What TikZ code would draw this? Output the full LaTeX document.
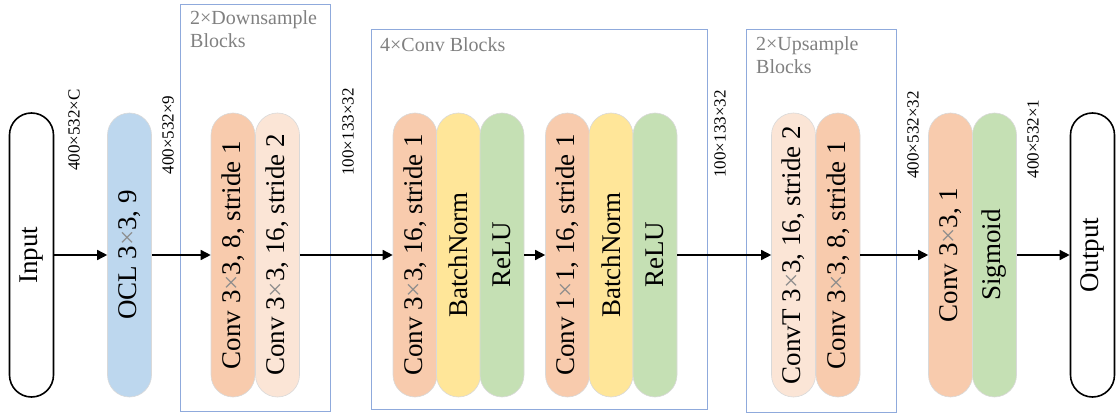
\documentclass[tikz,border=0pt]{standalone}
\usepackage{fontspec}
\setmainfont{Liberation Serif}
\usetikzlibrary{arrows.meta}
\definecolor{cblue}{HTML}{BDD7EE}
\definecolor{csalmon}{HTML}{F8CBAD}
\definecolor{cpeach}{HTML}{FBE5D6}
\definecolor{cyellow}{HTML}{FFE699}
\definecolor{cgreen}{HTML}{C5E0B4}
\definecolor{cframe}{HTML}{8FAADC}
\definecolor{ctitle}{HTML}{808080}
\newcommand{\xx}{\textcolor{black!45}{×}}
\tikzset{
  pill/.style={rectangle, rotate=90, minimum width=284pt, minimum height=44pt,
    rounded corners=22pt, inner sep=0pt, draw=black!15, line width=0.6pt,
    font=\fontsize{27}{30}\selectfont},
  endpill/.style={pill, fill=white, draw=black, line width=1.6pt},
  dimlabel/.style={rotate=90, inner sep=0pt, font=\fontsize{17}{19}\selectfont},
  blockframe/.style={draw=cframe, line width=0.9pt},
  blocktitle/.style={anchor=north west, inner sep=0pt, text=ctitle, align=left,
    font=\fontsize{20}{23}\selectfont},
  flow/.style={draw=black, line width=1.5pt, -{Triangle[length=10pt,width=10pt]}},
  flowplain/.style={draw=black, line width=1.5pt}
}
\begin{document}
\begin{tikzpicture}[x=1pt,y=-1pt]
\useasboundingbox (0,0) rectangle (1117,414);
% block frames
\draw[blockframe] (180,4) rectangle (330,411);
\draw[blockframe] (371,29) rectangle (707,409);
\draw[blockframe] (746,29) rectangle (896,412);
\node[blocktitle] (t1) at (190,10) {2×Downsample\\Blocks};
\node[blocktitle] (t2) at (380,37) {4×Conv Blocks};
\node[blocktitle] (t3) at (756,36) {2×Upsample\\Blocks};
% pills
\node[endpill] (in) at (31.5,255) {Input};
\node[pill, fill=cblue] (ocl) at (129.5,255) {OCL 3\xx3, 9};
\node[pill, fill=csalmon] (d1) at (233,255) {Conv 3\xx3, 8, stride 1};
\node[pill, fill=cpeach] (d2) at (277.5,255) {Conv 3\xx3, 16, stride 2};
\node[pill, fill=csalmon] (c1) at (415,255) {Conv 3\xx3, 16, stride 1};
\node[pill, fill=cyellow] (b1) at (458.5,255) {BatchNorm};
\node[pill, fill=cgreen] (r1) at (502,255) {ReLU};
\node[pill, fill=csalmon] (c2) at (567.5,255) {Conv 1\xx1, 16, stride 1};
\node[pill, fill=cyellow] (b2) at (611,255) {BatchNorm};
\node[pill, fill=cgreen] (r2) at (655,255) {ReLU};
\node[pill, fill=cpeach] (u1) at (793.5,255) {ConvT 3\xx3, 16, stride 2};
\node[pill, fill=csalmon] (u2) at (838,255) {Conv 3\xx3, 8, stride 1};
\node[pill, fill=csalmon] (f1) at (950.5,255) {Conv 3\xx3, 1};
\node[pill, fill=cgreen] (f2) at (994.5,255) {Sigmoid};
\node[endpill] (out) at (1092.5,255) {Output};
% dimension labels
\node[dimlabel] (l1) at (74,130) {400×532×C};
\node[dimlabel] (l2) at (168,135) {400×532×9};
\node[dimlabel] (l3) at (348,132) {100×133×32};
\node[dimlabel] (l4) at (720,134) {100×133×32};
\node[dimlabel] (l5) at (913,135) {400×532×32};
\node[dimlabel] (l6) at (1033,139) {400×532×1};
% arrows
\draw[flow] (in.south) -- (ocl.north);
\draw[flow] (ocl.south) -- (d1.north);
\draw[flow] (d2.south) -- (c1.north);
\draw[flow] (r1.south) -- (c2.north);
\draw[flow] (r2.south) -- (u1.north);
\draw[flow] (u2.south) -- (f1.north);
\draw[flow] (f2.south) -- (out.north);
\end{tikzpicture}
\end{document}
